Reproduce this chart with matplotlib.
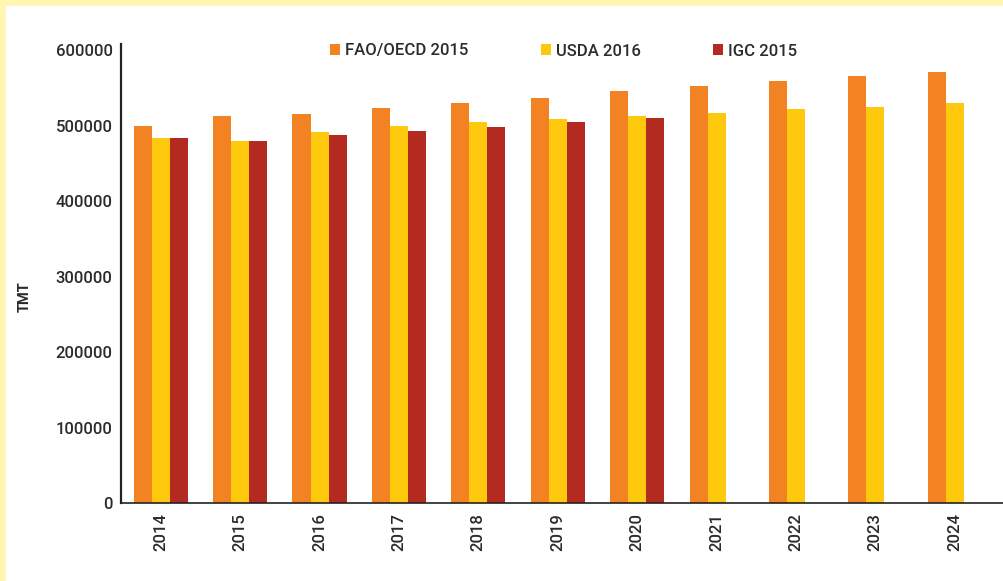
import matplotlib
matplotlib.use("Agg")
import matplotlib.pyplot as plt
from matplotlib.patches import Rectangle
import numpy as np

years = ["2014", "2015", "2016", "2017", "2018", "2019", "2020", "2021", "2022", "2023", "2024"]
faoOecd = [500000, 512500, 515000, 523000, 530000, 536500, 546000, 552500, 559000, 566000, 571000]
usda = [483000, 479000, 491000, 499000, 505000, 509000, 513000, 516500, 522000, 524500, 530000]
igc = [483000, 479000, 487000, 493000, 498000, 505000, 510000, np.nan, np.nan, np.nan, np.nan]
seriesNames = ["FAO/OECD 2015", "USDA 2016", "IGC 2015"]

orange = "#F38222"
yellow = "#FEC90D"
red = "#B22A20"
border = "#FFF6B3"
textColor = "#2b2b2b"

plt.rcParams["font.family"] = ["Roboto", "DejaVu Sans"]

fig = plt.figure(figsize=(10.04, 5.81), dpi=100)
fig.patch.set_facecolor(border)
# white card, yellow strip only on the left and top
fig.patches.append(Rectangle((6 / 1004, 0), 1, 1 - 6 / 581, transform=fig.transFigure,
                             facecolor="white", edgecolor="none", zorder=-5))

ax = fig.add_axes([121 / 1004, 78 / 581, 1 - 121 / 1004, (503 - 44) / 581])
ax.set_facecolor("white")

x = np.arange(len(years))
w = 0.227
ax.bar(x - w, faoOecd, w, color=orange, label=seriesNames[0])
ax.bar(x, usda, w, color=yellow, label=seriesNames[1])
ax.bar(x + w, igc, w, color=red, label=seriesNames[2])

ax.set_xlim(-0.5, len(years) - 1 + 0.62)
ax.set_ylim(0, 608000)
ax.set_yticks([0, 100000, 200000, 300000, 400000, 500000, 600000])
ax.set_yticklabels(["0", "100000", "200000", "300000", "400000", "500000", "600000"])
ax.set_xticks(x)
ax.set_xticklabels(years, rotation=90)

ax.tick_params(axis="y", length=0, pad=6, labelsize=12, labelcolor=textColor)
ax.tick_params(axis="x", length=0, pad=7, labelsize=12, labelcolor=textColor)
for lab in ax.get_xticklabels() + ax.get_yticklabels():
    lab.set_fontweight("medium")

for s in ["top", "right"]:
    ax.spines[s].set_visible(False)
ax.spines["left"].set_linewidth(1.6)
ax.spines["bottom"].set_linewidth(1.2)
ax.spines["left"].set_color("#222222")
ax.spines["bottom"].set_color("#222222")

fig.text(25 / 1004, 1 - 297 / 581, "TMT", rotation=90, ha="center", va="center",
         fontsize=10.5, fontweight="bold", color=textColor)

leg = ax.legend(loc="center left", bbox_to_anchor=(315 / 1004, 1 - 51 / 581),
                bbox_transform=fig.transFigure, ncol=3, frameon=False,
                handlelength=0.6, handleheight=0.6, handletextpad=0.3,
                columnspacing=4.35, prop={"size": 12, "weight": "medium"})
for t in leg.get_texts():
    t.set_color(textColor)

fig.savefig("out.png", dpi=100, facecolor=fig.get_facecolor())
